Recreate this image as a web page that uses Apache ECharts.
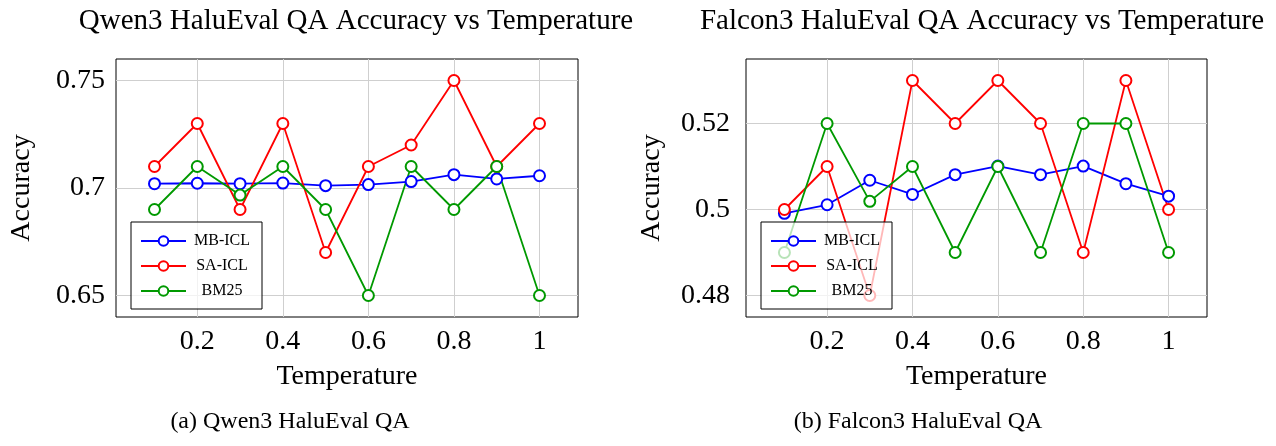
<!DOCTYPE html>
<html>
<head>
<meta charset="utf-8">
<script src="https://cdn.jsdelivr.net/npm/echarts@6/dist/echarts.min.js"></script>
<style>
html,body{margin:0;padding:0;background:#fff;}
#chart{width:1276px;height:446px;}
</style>
</head>
<body>
<div id="chart"></div>
<script>
// ---- data ----
const temperatures = [0.1, 0.2, 0.3, 0.4, 0.5, 0.6, 0.7, 0.8, 0.9, 1.0];
const seriesNames = ['MB-ICL', 'SA-ICL', 'BM25'];

const qwenMB   = [0.7020, 0.7022, 0.7020, 0.7023, 0.7011, 0.7016, 0.7030, 0.7062, 0.7042, 0.7057];
const qwenSA   = [0.71, 0.73, 0.69, 0.73, 0.67, 0.71, 0.72, 0.75, 0.71, 0.73];
const qwenBM25 = [0.69, 0.71, 0.6967, 0.71, 0.69, 0.65, 0.71, 0.69, 0.71, 0.65];

const falconMB   = [0.4991, 0.5011, 0.5068, 0.5035, 0.5081, 0.5101, 0.5081, 0.5101, 0.5060, 0.5031];
const falconSA   = [0.50, 0.51, 0.48, 0.53, 0.52, 0.53, 0.52, 0.49, 0.53, 0.50];
const falconBM25 = [0.49, 0.52, 0.5019, 0.51, 0.49, 0.51, 0.49, 0.52, 0.52, 0.49];

const xTicks = [0.2, 0.4, 0.6, 0.8, 1];
const qwenYTicks = [0.65, 0.7, 0.75];
const falconYTicks = [0.48, 0.5, 0.52];

const titles = ['Qwen3 HaluEval QA Accuracy vs Temperature', 'Falcon3 HaluEval QA Accuracy vs Temperature'];
const captions = ['(a) Qwen3 HaluEval QA', '(b) Falcon3 HaluEval QA'];
const xName = 'Temperature';
const yName = 'Accuracy';

// ---- styling ----
const colors = ['#0000ff', '#ff0000', '#009900'];
const SERIF = '"Liberation Serif", "Times New Roman", serif';

function enlarge(arrs) {
  const all = [].concat(...arrs);
  const lo = Math.min(...all), hi = Math.max(...all);
  const pad = (hi - lo) * 0.1;
  return [lo - pad, hi + pad];
}
const xRange = enlarge([temperatures]);
const qRange = enlarge([qwenMB, qwenSA, qwenBM25]);
const fRange = enlarge([falconMB, falconSA, falconBM25]);

const grids = [
  {left: 116, top: 59, width: 462, height: 258},
  {left: 746, top: 59, width: 461, height: 258}
];

function xAxes(gi) {
  const base = {
    gridIndex: gi, type: 'value', min: xRange[0], max: xRange[1],
    axisLine: {show: false}, splitLine: {show: false},
    axisTick: {show: true, inside: true, length: 5, customValues: xTicks, lineStyle: {color: '#555', width: 1}}
  };
  return [
    Object.assign({}, base, {
      position: 'bottom',
      axisLabel: {customValues: xTicks, margin: 11, fontSize: 28, fontFamily: SERIF, color: '#000'},
      name: xName, nameLocation: 'middle', nameGap: 46,
      nameTextStyle: {fontSize: 28, fontFamily: SERIF, color: '#000'}
    }),
    Object.assign({}, base, {position: 'top', axisLabel: {show: false}})
  ];
}
function yAxes(gi, range, ticks, margin, nameGap) {
  const base = {
    gridIndex: gi, type: 'value', min: range[0], max: range[1],
    axisLine: {show: false}, splitLine: {show: false},
    axisTick: {show: true, inside: true, length: 5, customValues: ticks, lineStyle: {color: '#555', width: 1}}
  };
  return [
    Object.assign({}, base, {
      position: 'left',
      axisLabel: {customValues: ticks, margin: margin, fontSize: 28, fontFamily: SERIF, color: '#000'},
      name: yName, nameLocation: 'middle', nameGap: nameGap,
      nameTextStyle: {fontSize: 28, fontFamily: SERIF, color: '#000'}
    }),
    Object.assign({}, base, {position: 'right', axisLabel: {show: false}})
  ];
}

function gridSeries(xi, yi, yTicks) {
  return {
    type: 'line', xAxisIndex: xi, yAxisIndex: yi, data: [], silent: true, z: 1,
    markLine: {
      silent: true, symbol: 'none', z: 1, animation: false,
      label: {show: false},
      lineStyle: {color: '#cfcfcf', width: 1, type: 'solid'},
      emphasis: {disabled: true},
      data: xTicks.map(v => ({xAxis: v})).concat(yTicks.map(v => ({yAxis: v})))
    }
  };
}

function dataSeries(xi, yi, arrs) {
  return arrs.map((vals, i) => ({
    name: seriesNames[i], type: 'line', xAxisIndex: xi, yAxisIndex: yi, z: 3,
    data: temperatures.map((t, k) => [t, vals[k]]),
    symbol: 'emptyCircle', symbolSize: 11, showAllSymbol: true,
    color: colors[i],
    lineStyle: {color: colors[i], width: 1.8},
    itemStyle: {color: colors[i], borderWidth: 1.8},
    emphasis: {disabled: true},
    animation: false
  }));
}

function legend(left) {
  return {
    orient: 'vertical', left: left, top: 222, width: 130,
    data: seriesNames,
    backgroundColor: 'rgba(255,255,255,0.72)',
    borderColor: '#000', borderWidth: 1,
    padding: [11, 9, 10, 9],
    itemGap: 9, itemWidth: 45, itemHeight: 12,
    selectedMode: false,
    formatter: '{c|{name}}',
    textStyle: {
      color: '#000', fontFamily: SERIF, fontSize: 16,
      rich: {c: {width: 62, align: 'center', fontSize: 16, lineHeight: 18, fontFamily: SERIF, color: '#000'}}
    }
  };
}

const option = {
  backgroundColor: '#fff',
  animation: false,
  title: [
    {text: titles[0], left: 351, top: 2, textAlign: 'center', textStyle: {fontSize: 29, fontWeight: 'normal', fontFamily: SERIF, color: '#000'}},
    {text: titles[1], left: 977, top: 2, textAlign: 'center', textStyle: {fontSize: 29, fontWeight: 'normal', fontFamily: SERIF, color: '#000'}},
    {text: captions[0], left: 285, top: 405, textAlign: 'center', textStyle: {fontSize: 24, fontWeight: 'normal', fontFamily: SERIF, color: '#000'}},
    {text: captions[1], left: 913, top: 405, textAlign: 'center', textStyle: {fontSize: 24, fontWeight: 'normal', fontFamily: SERIF, color: '#000'}}
  ],
  grid: grids.map(g => Object.assign({show: true, borderColor: '#000', borderWidth: 1, backgroundColor: 'transparent'}, g)),
  xAxis: xAxes(0).concat(xAxes(1)),
  yAxis: yAxes(0, qRange, qwenYTicks, 11, 80).concat(yAxes(1, fRange, falconYTicks, 16, 80)),
  legend: [legend(131), legend(761)],
  series: [
    gridSeries(0, 0, qwenYTicks),
    ...dataSeries(0, 0, [qwenMB, qwenSA, qwenBM25]),
    gridSeries(2, 2, falconYTicks),
    ...dataSeries(2, 2, [falconMB, falconSA, falconBM25])
  ]
};

const chart = echarts.init(document.getElementById('chart'), null, {renderer: 'canvas'});
chart.setOption(option);
</script>
</body>
</html>
